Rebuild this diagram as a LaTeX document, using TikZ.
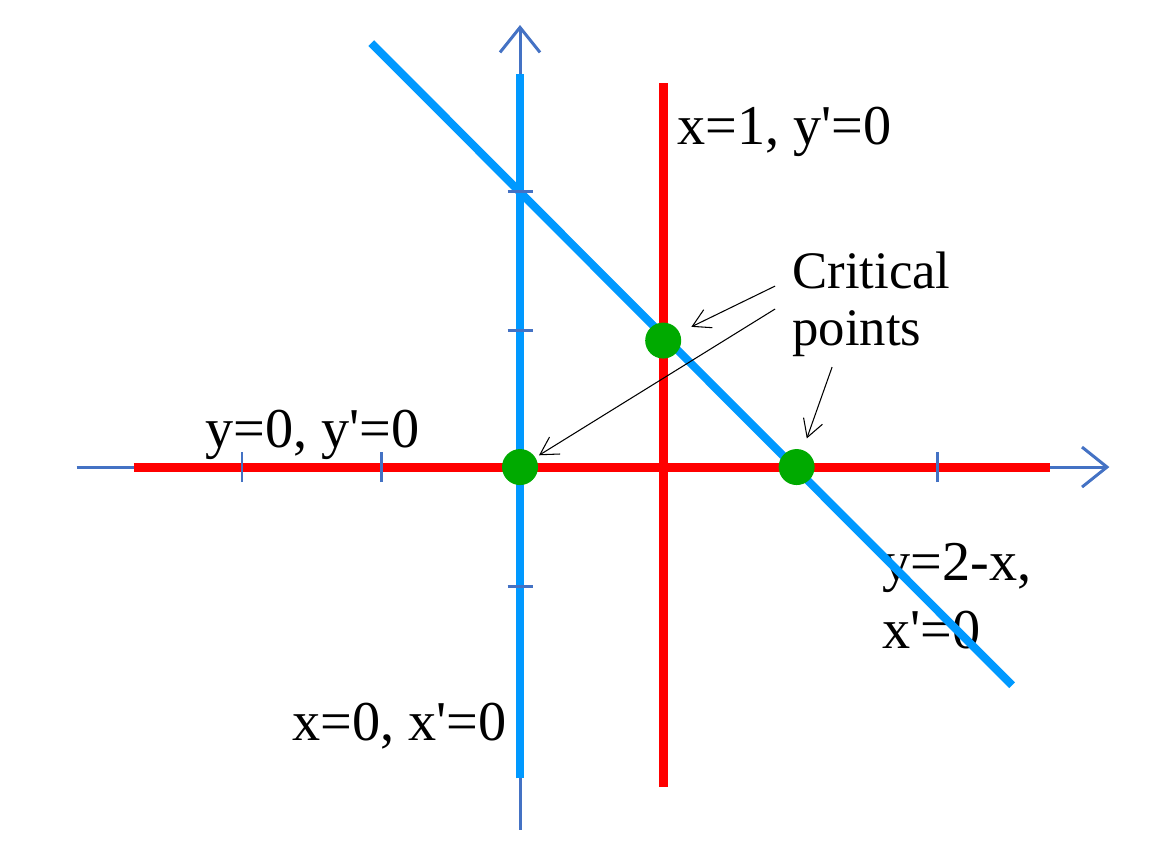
\documentclass[tikz,border=0pt]{standalone}
\usepackage{fontspec}
\setmainfont{Liberation Serif}
\usetikzlibrary{arrows.meta}
\definecolor{axisblue}{RGB}{68,114,196}
\definecolor{lineblue}{RGB}{0,153,255}
\definecolor{nullred}{RGB}{255,0,0}
\definecolor{critgreen}{RGB}{0,170,0}

\begin{document}
\begin{tikzpicture}[x=2.78cm, y=2.78cm,
    axis/.style={axisblue, line width=1.7pt,
      -{Straight Barb[length=0.5cm, width=0.8cm, line width=1.7pt]}},
    tickmark/.style={axisblue, line width=1.7pt},
    nullx/.style={lineblue, line width=4.6pt},
    nully/.style={nullred, line width=5.1pt},
    crit/.style={circle, fill=critgreen, inner sep=0pt, minimum size=0.72cm},
    lbl/.style={inner sep=0pt, anchor=base west, align=left,
      font=\fontsize{32}{38.7}\selectfont},
    pointer/.style={black, line width=0.6pt,
      -{Straight Barb[length=0.35cm, width=0.4cm, line width=0.6pt]}}]
  \useasboundingbox (-3.741,-2.755) rectangle (4.532,3.360);
  % axes
  \draw[axis] (-3.19,0) -- (4.24,0);
  \draw[axis] (0,-2.61) -- (0,3.18);
  % labels (base of the last line)
  \node[lbl] (lx1) at (1.129,2.317) {x=1, y\textquotesingle=0};
  \node[lbl] (ly0) at (-2.266,0.144) {y=0, y\textquotesingle=0};
  \node[lbl, font=\fontsize{30}{32.4}\selectfont] (lcrit) at (1.957,0.878)
    {Critical\\points};
  \node[lbl] (ly2x) at (2.604,-1.302) {y=2-x,\\x\textquotesingle=0};
  \node[lbl] (lx0) at (-1.640,-1.964) {x=0, x\textquotesingle=0};
  % nullclines
  \draw[nully] (-2.78,0) -- (3.81,0);
  \draw[nully] (1.03,-2.30) -- (1.03,2.76);
  \draw[nullx] (0,-2.24) -- (0,2.83);
  \draw[nullx] (-1.07,3.05) -- (3.54,-1.57);
  % ticks
  \foreach \t in {-2,-1,3}
    \draw[tickmark] (\t,-0.108) -- (\t,0.108);
  \foreach \t in {-0.86,0.98,1.98}
    \draw[tickmark] (-0.09,\t) -- (0.09,\t);
  % critical points
  \node[crit] (c0) at (0,0) {};
  \node[crit] (c1) at (1.03,0.91) {};
  \node[crit] (c2) at (1.99,0) {};
  \coordinate (s1) at (1.835,1.302);
  \coordinate (s2) at (1.835,1.137);
  \coordinate (s3) at (2.245,0.719);
  \draw[pointer, shorten >=0.26cm] (s1) -- (c1);
  \draw[pointer, shorten >=0.08cm] (s2) -- (c0);
  \draw[pointer, shorten >=0.24cm] (s3) -- (c2);
\end{tikzpicture}
\end{document}
